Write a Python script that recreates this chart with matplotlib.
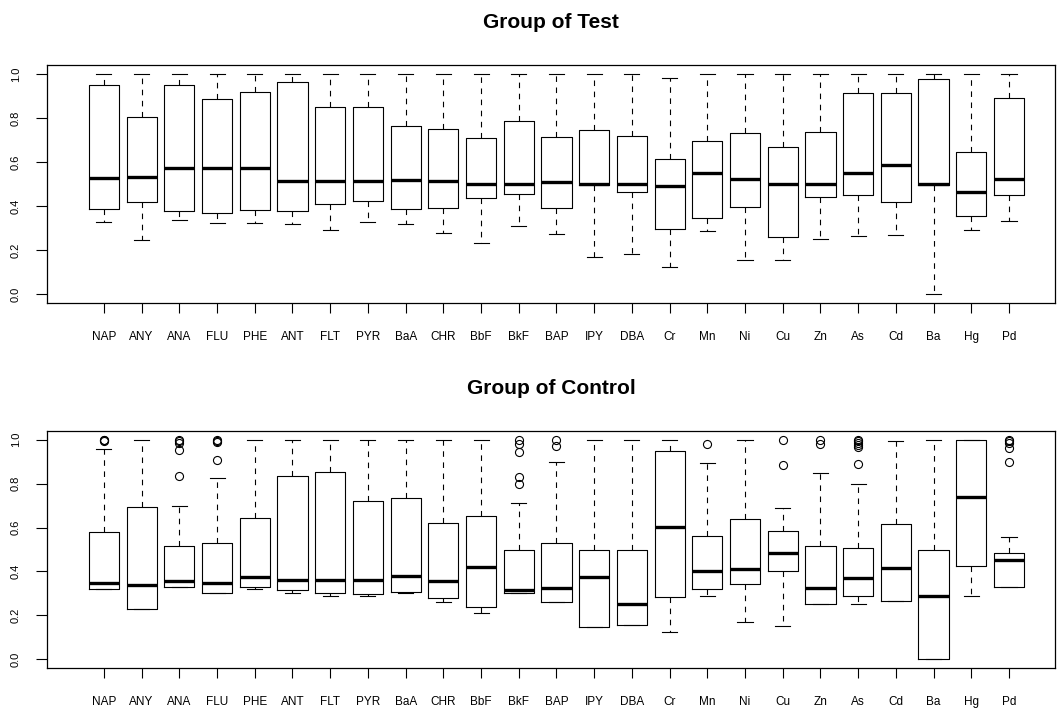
import matplotlib
matplotlib.use("Agg")
import matplotlib.pyplot as plt

plt.rcParams["font.family"] = ["Liberation Sans", "DejaVu Sans"]

labels = ["NAP", "ANY", "ANA", "FLU", "PHE", "ANT", "FLT", "PYR", "BaA", "CHR", "BbF", "BkF",
          "BAP", "IPY", "DBA", "Cr", "Mn", "Ni", "Cu", "Zn", "As", "Cd", "Ba", "Hg", "Pd"]

# Group of Test
test_hi = [1.0, 1.0, 1.0, 1.0, 1.0, 1.0, 1.0, 1.0, 1.0, 1.0, 1.0, 1.0,
           1.0, 1.0, 1.0, 0.982, 1.0, 1.0, 1.0, 1.0, 1.0, 1.0, 1.0, 1.0, 1.0]
test_q3 = [0.950, 0.806, 0.948, 0.886, 0.918, 0.964, 0.848, 0.848, 0.762, 0.748, 0.711, 0.785,
           0.712, 0.745, 0.718, 0.612, 0.697, 0.733, 0.667, 0.735, 0.912, 0.915, 0.977, 0.647, 0.892]
test_med = [0.529, 0.530, 0.571, 0.571, 0.571, 0.514, 0.512, 0.515, 0.518, 0.515, 0.500, 0.500,
            0.508, 0.500, 0.500, 0.491, 0.552, 0.524, 0.500, 0.500, 0.548, 0.585, 0.500, 0.462, 0.524]
test_q1 = [0.385, 0.417, 0.376, 0.367, 0.380, 0.376, 0.411, 0.424, 0.385, 0.389, 0.435, 0.453,
           0.392, 0.497, 0.465, 0.295, 0.347, 0.395, 0.258, 0.442, 0.450, 0.417, 0.497, 0.356, 0.448]
test_lo = [0.327, 0.245, 0.338, 0.324, 0.324, 0.318, 0.289, 0.327, 0.317, 0.279, 0.233, 0.308,
           0.274, 0.167, 0.183, 0.123, 0.288, 0.153, 0.153, 0.250, 0.265, 0.268, 0.000, 0.289, 0.332]

# Group of Control
ctrl_hi = [0.958, 1.0, 0.697, 0.827, 1.0, 1.0, 1.0, 1.0, 1.0, 1.0, 1.0, 0.712,
           0.897, 1.0, 1.0, 1.0, 0.892, 1.0, 0.691, 0.848, 0.800, 0.994, 1.0, 1.0, 0.556]
ctrl_q3 = [0.582, 0.692, 0.517, 0.530, 0.642, 0.836, 0.855, 0.721, 0.736, 0.623, 0.652, 0.498,
           0.530, 0.498, 0.498, 0.948, 0.561, 0.639, 0.585, 0.517, 0.508, 0.617, 0.498, 1.0, 0.485]
ctrl_med = [0.348, 0.339, 0.358, 0.348, 0.376, 0.362, 0.359, 0.359, 0.379, 0.356, 0.420, 0.314,
            0.323, 0.373, 0.252, 0.602, 0.403, 0.412, 0.485, 0.324, 0.371, 0.417, 0.288, 0.739, 0.450]
ctrl_q1 = [0.321, 0.230, 0.327, 0.302, 0.329, 0.314, 0.300, 0.297, 0.308, 0.277, 0.239, 0.303,
           0.259, 0.147, 0.156, 0.282, 0.321, 0.341, 0.400, 0.250, 0.288, 0.267, 0.000, 0.426, 0.330]
ctrl_lo = [0.321, 0.230, 0.327, 0.302, 0.320, 0.302, 0.288, 0.286, 0.300, 0.262, 0.209, 0.303,
           0.259, 0.147, 0.156, 0.123, 0.289, 0.168, 0.150, 0.250, 0.253, 0.267, 0.000, 0.289, 0.330]
ctrl_out = {
    "NAP": [1.0, 0.997, 0.994],
    "ANA": [1.0, 0.994, 0.985, 0.955, 0.833],
    "FLU": [1.0, 0.995, 0.990, 0.909],
    "BkF": [1.0, 0.979, 0.944, 0.830, 0.800],
    "BAP": [0.998, 0.970],
    "Mn": [0.982],
    "Cu": [0.997, 0.883],
    "Zn": [1.0, 0.982],
    "As": [1.0, 0.993, 0.985, 0.975, 0.965, 0.891],
    "Pd": [1.0, 0.994, 0.984, 0.962, 0.900],
}


def make_stats(lo, q1, med, q3, hi, out):
    stats = []
    for i in range(len(labels)):
        stats.append({"label": labels[i], "whislo": lo[i], "q1": q1[i], "med": med[i],
                      "q3": q3[i], "whishi": hi[i], "fliers": out.get(labels[i], [])})
    return stats


def draw(ax, stats, title):
    ax.bxp(stats, widths=0.8, patch_artist=False,
           boxprops=dict(color="black", linewidth=0.8),
           medianprops=dict(color="black", linewidth=2.4, solid_capstyle="butt"),
           whiskerprops=dict(color="black", linewidth=0.8, linestyle=(0, (5, 5))),
           capprops=dict(color="black", linewidth=0.8),
           flierprops=dict(marker="o", markerfacecolor="none", markeredgecolor="black",
                           markersize=5.8, markeredgewidth=0.8))
    ax.set_xlim(-0.51, 26.22)
    ax.set_ylim(-0.04, 1.04)
    ax.set_yticks([0.0, 0.2, 0.4, 0.6, 0.8, 1.0])
    ax.set_yticklabels(["0.0", "0.2", "0.4", "0.6", "0.8", "1.0"], rotation=90, va="center")
    ax.tick_params(axis="y", length=8, width=0.8, pad=11, labelsize=8)
    ax.tick_params(axis="x", length=7.5, width=0.8, pad=13, labelsize=8.5)
    for s in ax.spines.values():
        s.set_linewidth(0.9)
    ax.set_title(title, fontsize=15, fontweight="bold", pad=27)


def main():
    fig = plt.figure(figsize=(10.58, 7.10), dpi=100)
    ax1 = fig.add_axes([47 / 1058, 1 - 303 / 710, 1008 / 1058, 238 / 710])
    ax2 = fig.add_axes([47 / 1058, 1 - 668 / 710, 1008 / 1058, 237 / 710])
    draw(ax1, make_stats(test_lo, test_q1, test_med, test_q3, test_hi, {}), "Group of Test")
    draw(ax2, make_stats(ctrl_lo, ctrl_q1, ctrl_med, ctrl_q3, ctrl_hi, ctrl_out), "Group of Control")
    fig.savefig("out.png", dpi=100)


main()
